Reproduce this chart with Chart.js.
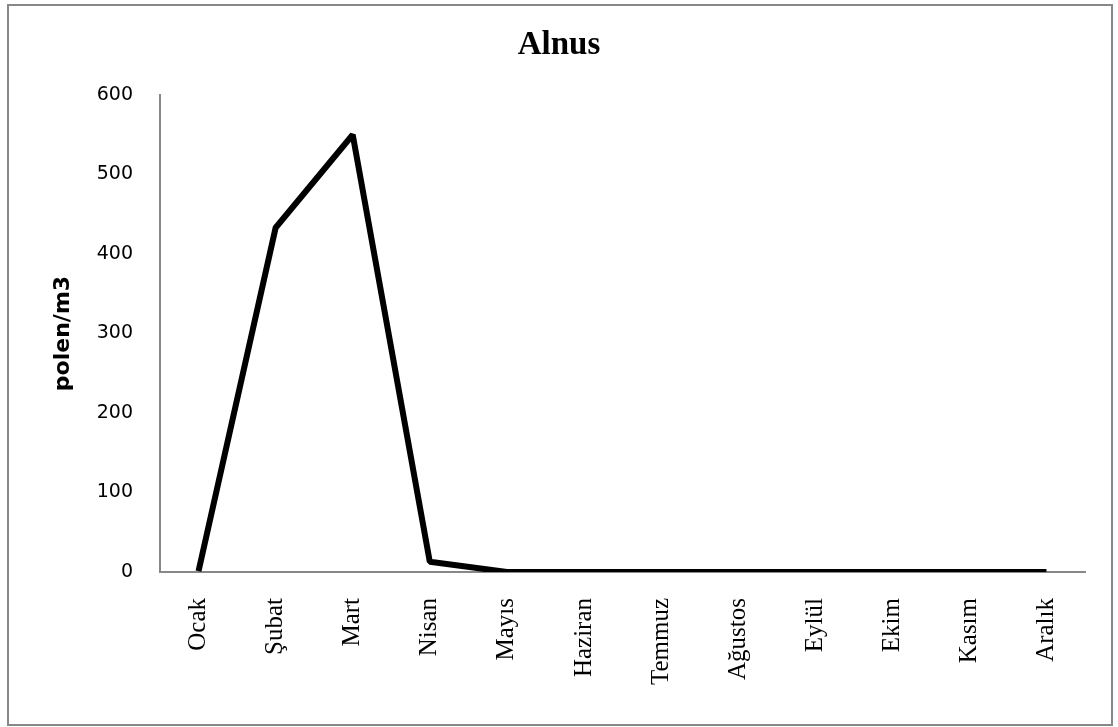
<!DOCTYPE html>
<html>
<head>
<meta charset="utf-8">
<script src="https://cdn.jsdelivr.net/npm/chart.js@4"></script>
<style>
  html, body { margin: 0; padding: 0; background: #fff; }
  #wrap { position: relative; width: 1118px; height: 727px; }
</style>
</head>
<body>
<div id="wrap"><canvas id="c" width="1118" height="727"></canvas></div>
<script>
// Monthly Alnus pollen counts (polen/m3)
const months = ['Ocak', 'Şubat', 'Mart', 'Nisan', 'Mayıs', 'Haziran', 'Temmuz', 'Ağustos', 'Eylül', 'Ekim', 'Kasım', 'Aralık'];
const pollen = [1, 433, 550, 13, 0, 0, 0, 0, 0, 0, 0, 0];
const yTicks = [0, 100, 200, 300, 400, 500, 600];

// Thin grey frame round the whole chart
const framePlugin = {
  id: 'frame',
  beforeDraw(chart) {
    const ctx = chart.ctx;
    ctx.save();
    ctx.fillStyle = '#ffffff';
    ctx.fillRect(0, 0, chart.width, chart.height);
    ctx.strokeStyle = '#888888';
    ctx.lineWidth = 2;
    ctx.strokeRect(8, 5, 1104, 720);
    ctx.restore();
  }
};

new Chart(document.getElementById('c'), {
  type: 'line',
  data: {
    labels: months,
    datasets: [{
      data: pollen,
      borderColor: '#000000',
      borderWidth: 6,
      borderJoinStyle: 'bevel',
      pointRadius: 0,
      tension: 0,
      fill: false
    }]
  },
  options: {
    responsive: false,
    animation: false,
    layout: { padding: { left: 33, right: 33, top: 0, bottom: 0 } },
    plugins: {
      legend: { display: false },
      tooltip: { enabled: false },
      title: {
        display: true,
        text: 'Alnus',
        color: '#000',
        font: { family: 'Liberation Serif', size: 33, weight: 'bold', lineHeight: 1.2 },
        padding: { top: 26, bottom: 29.4 }
      }
    },
    scales: {
      x: {
        type: 'category',
        offset: true,
        grid: { display: false, drawTicks: false },
        border: { display: true, color: '#888888', width: 2 },
        ticks: {
          color: '#000',
          font: { family: 'Liberation Serif', size: 25 },
          minRotation: 90,
          maxRotation: 90,
          padding: 26,
          autoSkip: false
        },
        afterFit(scale) { scale.height = 155; }
      },
      y: {
        min: 0,
        max: 600,
        afterBuildTicks(scale) { scale.ticks = yTicks.map(v => ({ value: v })); },
        grid: { display: false, drawTicks: false },
        border: { display: true, color: '#888888', width: 2 },
        ticks: {
          color: '#000',
          font: { family: 'DejaVu Sans', size: 19 },
          padding: 27
        },
        title: {
          display: true,
          text: 'polen/m3',
          color: '#000',
          font: { family: 'DejaVu Sans', size: 22, weight: 'bold', lineHeight: 1.2 },
          padding: { top: 17, bottom: 0 }
        },
        afterFit(scale) { scale.width = 127; }
      }
    }
  },
  plugins: [framePlugin]
});
</script>
</body>
</html>
